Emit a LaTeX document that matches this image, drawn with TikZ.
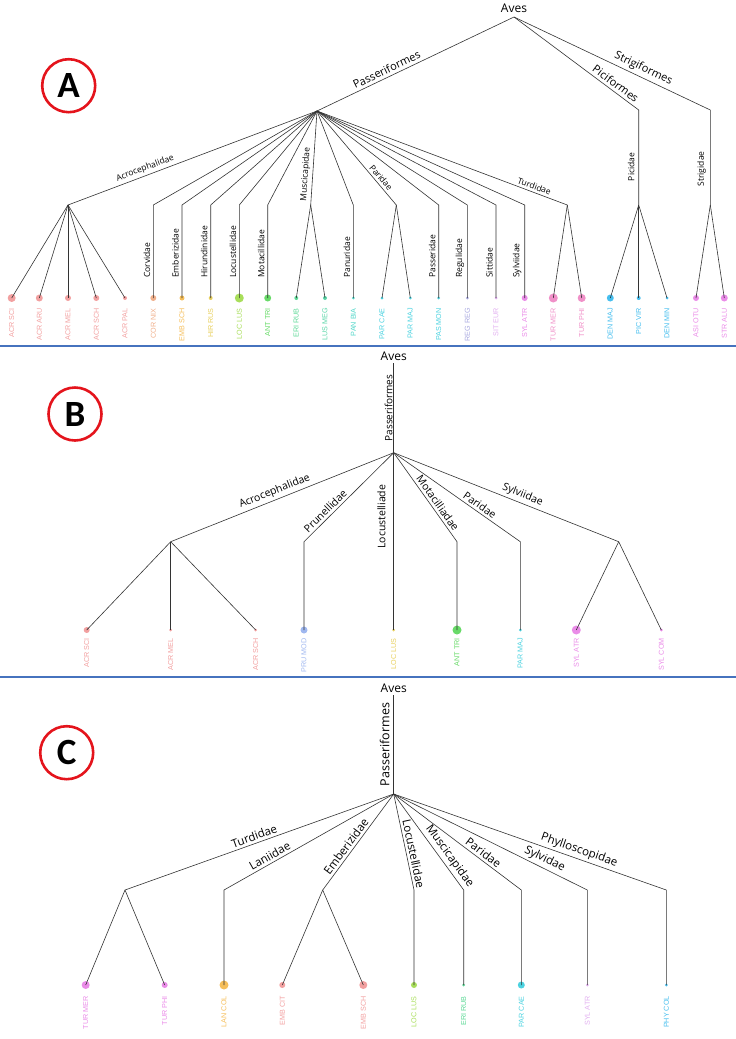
\documentclass[tikz,border=0pt]{standalone}
\usepackage{fontspec}
\setmainfont{Open Sans}
\newfontfamily\leaffont{Liberation Sans}
\newfontfamily\tagfont{Carlito}

% leaf colours
\definecolor{acr}{RGB}{242,160,160}
\definecolor{cor}{RGB}{240,176,140}
\definecolor{emb}{RGB}{245,190,90}
\definecolor{hir}{RGB}{232,208,96}
\definecolor{loc}{RGB}{168,222,90}
\definecolor{ant}{RGB}{104,218,104}
\definecolor{eri}{RGB}{92,216,150}
\definecolor{lus}{RGB}{90,214,168}
\definecolor{pan}{RGB}{80,214,200}
\definecolor{par}{RGB}{76,210,224}
\definecolor{reg}{RGB}{168,168,224}
\definecolor{sit}{RGB}{226,176,240}
\definecolor{syl}{RGB}{234,140,232}
\definecolor{tur}{RGB}{240,144,200}
\definecolor{den}{RGB}{70,190,238}
\definecolor{pru}{RGB}{160,184,240}
\definecolor{tagred}{RGB}{228,20,28}
\definecolor{divblue}{RGB}{70,115,190}

\tikzset{
  branch/.style={draw=black!80, line width=0.6pt},
  rootlab/.style={font=\fontsize{12}{12}\selectfont, inner sep=0pt, anchor=base},
  order/.style={font=\fontsize{11}{11}\selectfont, sloped, above=2pt, inner sep=1pt},
  clade/.style={font=\fontsize{#1}{#1}\selectfont, sloped, above=1.5pt, inner sep=1pt},
  clade/.default=8.5,
  vclade/.style={font=\fontsize{#1}{#1}\selectfont, rotate=90, inner sep=1pt},
  vclade/.default=8.5,
  leaflab/.style={font=\leaffont\fontsize{7.2}{7.2}\selectfont, rotate=90, anchor=east, inner sep=0pt},
  paneltag/.style={circle, draw=tagred, line width=2.6pt, minimum size=53pt, inner sep=0pt,
    font=\tagfont\bfseries\fontsize{37}{37}\selectfont},
  divider/.style={draw=divblue, line width=1.6pt}
}

\begin{document}
\begin{tikzpicture}[x=1pt, y=-1pt]
    \useasboundingbox (0,0) rectangle (736,1039);

    % panel dividers
    \draw[divider] (0,346) -- (736,346);
    \draw[divider] (0,677) -- (736,677);

    % panel tags
    \node[paneltag] (tagA) at (68.7,85.7) {A};
    \node[paneltag] (tagB) at (75,414) {B};
    \node[paneltag] (tagC) at (66.7,752.7) {C};

    % ---------------- panel A ----------------
    \foreach \nm/\x/\r/\c/\t in {
        acrsci/11.7/4/acr/ACR SCI, acraru/39.3/3.5/acr/ACR ARU, acrmel/68/3/acr/ACR MEL,
        acrsch/96.3/3/acr/ACR SCH, acrpal/125/2/acr/ACR PAL, cornix/153.3/3/cor/COR NIX,
        embsch/182/2.5/emb/EMB SCH, hirrus/210.7/2/hir/HIR RUS, loclus/239.3/4.5/loc/LOC LUS,
        anttri/267.7/3.5/ant/ANT TRI, erirub/296.3/2/eri/ERI RUB, lusmeg/325/2/lus/LUS MEG,
        panbia/353.3/1.5/pan/PAN BIA, parcae/382/1.5/par/PAR CAE, parmaj/410.3/1.5/par/PAR MAJ,
        pasmon/438.7/1.5/par/PAS MON, regreg/467.3/1.5/reg/REG REG, siteur/496/1.5/sit/SIT EUR,
        sylatr/524.7/3/syl/SYL ATR, turmer/553.3/4.5/tur/TUR MER, turphi/581.7/4/tur/TUR PHI,
        denmaj/610.3/3.5/den/DEN MAJ, picvir/638.7/2/den/PIC VIR, denmin/667/1.5/den/DEN MIN,
        asiotu/696/3/syl/ASI OTU, stralu/724.3/3.5/syl/STR ALU}{
        \coordinate (A-\nm) at (\x,298);
        \fill[\c] (A-\nm) circle[radius=\r];
        \node[leaflab, text=\c] (A-\nm-lab) at ([yshift=-10pt]A-\nm) {\t};
    }

    \coordinate (A-root) at (514,17);
    \node[rootlab] (A-aves) at ([yshift=4.5pt]A-root) {Aves};
    \coordinate (A-passer) at (317,111);
    \coordinate (A-pici) at (638.7,110);
    \coordinate (A-strigi) at (710.3,110);
    \coordinate (A-picid) at (638.7,205);
    \coordinate (A-strig) at (710.3,205);
    \foreach \f/\x in {acro/68, corv/153.3, embe/182, hiru/210.7, locu/239.3, mota/267.7,
        musc/310.7, panu/353.3, pari/396.3, pass/438.7, regu/467.3, sitt/496, sylv/524.7, turd/567.3}
        \coordinate (A-\f) at (\x,205);

    % orders
    \draw[branch] (A-root) -- node[order, pos=.63] {Passeriformes} (A-passer);
    \draw[branch] (A-root) -- node[order, pos=.78] {Piciformes} (A-pici)
        -- node[xshift=-3pt, vclade, anchor=south, pos=.6] {Picidae} (A-picid);
    \draw[branch] (A-root) -- node[order, pos=.64] {Strigiformes} (A-strigi)
        -- node[xshift=-3pt, vclade, anchor=south, pos=.62] {Strigidae} (A-strig);
    \foreach \l in {denmaj, picvir, denmin} \draw[branch] (A-picid) -- (A-\l);
    \foreach \l in {asiotu, stralu} \draw[branch] (A-strig) -- (A-\l);

    % families with several leaves
    \draw[branch] (A-passer) -- node[clade, pos=.68] {Acrocephalidae} (A-acro);
    \foreach \l in {acrsci, acraru, acrmel, acrsch, acrpal} \draw[branch] (A-acro) -- (A-\l);
    \draw[branch] (A-passer) -- node[clade, pos=.68] {Muscicapidae} (A-musc);
    \foreach \l in {erirub, lusmeg} \draw[branch] (A-musc) -- (A-\l);
    \draw[branch] (A-passer) -- node[clade, pos=.75] {Paridae} (A-pari);
    \foreach \l in {parcae, parmaj} \draw[branch] (A-pari) -- (A-\l);
    \draw[branch] (A-passer) -- node[clade, pos=.86] {Turdidae} (A-turd);
    \foreach \l in {turmer, turphi} \draw[branch] (A-turd) -- (A-\l);

    % families with one leaf
    \foreach \f/\l/\t in {corv/cornix/Corvidae, embe/embsch/Emberizidae, hiru/hirrus/Hirundinidae,
        locu/loclus/Locustellidae, mota/anttri/Motacillidae, panu/panbia/Panuridae,
        pass/pasmon/Passeridae, regu/regreg/Regulidae, sitt/siteur/Sittidae, sylv/sylatr/Sylviidae}{
        \draw[branch] (A-passer) -- (A-\f) -- (A-\l);
        \node[vclade, anchor=south west] (A-\f-lab) at ([xshift=-2pt, yshift=19pt]A-\l) {\t};
    }

    % ---------------- panel B ----------------
    \foreach \nm/\x/\r/\c/\t in {
        acrsci/86.7/3/acr/ACR SCI, acrmel/170.7/1.5/acr/ACR MEL, acrsch/255.7/1.5/acr/ACR SCH,
        prumod/304/3.5/pru/PRU MOD, loclus/393.7/1.5/hir/LOC LUS, anttri/457/4.5/ant/ANT TRI,
        parmaj/520.3/1.5/par/PAR MAJ, sylatr/576.3/4.5/syl/SYL ATR, sylcom/661.3/1.5/syl/SYL COM}{
        \coordinate (B-\nm) at (\x,630);
        \fill[\c] (B-\nm) circle[radius=\r];
        \node[leaflab, text=\c] (B-\nm-lab) at ([yshift=-8pt]B-\nm) {\t};
    }

    \coordinate (B-root) at (393.7,363.3);
    \node[rootlab] (B-aves) at ([yshift=2.5pt]B-root) {Aves};
    \coordinate (B-passer) at (393.7,452.7);
    \foreach \f/\x in {acro/170.7, prun/304, locu/393.7, mota/457, pari/520.3, sylv/618.7}
        \coordinate (B-\f) at (\x,541.7);

    \draw[branch] (B-root) -- node[vclade=10, anchor=south, midway] {Passeriformes} (B-passer);
    \draw[branch] (B-passer) -- node[clade=10.5, pos=.52] {Acrocephalidae} (B-acro);
    \foreach \l in {acrsci, acrmel, acrsch} \draw[branch] (B-acro) -- (B-\l);
    \draw[branch] (B-passer) -- node[clade=10.5, pos=.71] {Prunellidae} (B-prun) -- (B-prumod);
    \draw[branch] (B-passer) -- node[xshift=-7pt, vclade=10.5, anchor=south, pos=.72] {Locustelliade} (B-locu) -- (B-loclus);
    \draw[branch] (B-passer) -- node[clade=10.5, pos=.61] {Motacilliadae} (B-mota) -- (B-anttri);
    \draw[branch] (B-passer) -- node[clade=10.5, pos=.65] {Paridae} (B-pari) -- (B-parmaj);
    \draw[branch] (B-passer) -- node[clade=10.5, pos=.56] {Sylviidae} (B-sylv);
    \foreach \l in {sylatr, sylcom} \draw[branch] (B-sylv) -- (B-\l);

    % ---------------- panel C ----------------
    \foreach \nm/\x/\r/\c/\t in {
        turmer/85.7/4/syl/TUR MER, turphi/164.7/3/syl/TUR PHI, lancol/224/4.5/emb/LAN COL,
        embcit/282.3/3/acr/EMB CIT, embsch/363.3/4/acr/EMB SCH, loclus/414/3/loc/LOC LUS,
        erirub/463.7/1.5/eri/ERI RUB, parcae/521.3/3.5/par/PAR CAE, sylatr/587.3/1.5/sit/SYL ATR,
        phycol/666.3/1.5/den/PHY COL}{
        \coordinate (C-\nm) at (\x,985);
        \fill[\c] (C-\nm) circle[radius=\r];
        \node[leaflab, text=\c] (C-\nm-lab) at ([yshift=-11pt]C-\nm) {\t};
    }

    \coordinate (C-root) at (393.7,695);
    \node[rootlab] (C-aves) at ([yshift=2.7pt]C-root) {Aves};
    \coordinate (C-passer) at (393.7,794);
    \foreach \f/\x in {turd/125, lani/224, embe/322.7, locu/414, musc/463.7, pari/521.3,
        sylv/587.3, phyl/666.3}
        \coordinate (C-\f) at (\x,890);

    \draw[branch] (C-root) -- node[xshift=-3pt, vclade=12.5, anchor=south, midway] {Passeriformes} (C-passer);
    \draw[branch] (C-passer) -- node[clade=11.5, pos=.51] {Turdidae} (C-turd);
    \foreach \l in {turmer, turphi} \draw[branch] (C-turd) -- (C-\l);
    \draw[branch] (C-passer) -- node[clade=11.5, pos=.71] {Laniidae} (C-lani) -- (C-lancol);
    \draw[branch] (C-passer) -- node[clade=11.5, pos=.59] {Emberizidae} (C-embe);
    \foreach \l in {embcit, embsch} \draw[branch] (C-embe) -- (C-\l);
    \draw[branch] (C-passer) -- node[clade=11.5, pos=.64] {Locustellidae} (C-locu) -- (C-loclus);
    \draw[branch] (C-passer) -- node[clade=11.5, pos=.70] {Muscicapidae} (C-musc) -- (C-erirub);
    \draw[branch] (C-passer) -- node[clade=11.5, pos=.67] {Paridae} (C-pari) -- (C-parcae);
    \draw[branch] (C-passer) -- node[clade=11.5, pos=.76] {Sylvidae} (C-sylv) -- (C-sylatr);
    \draw[branch] (C-passer) -- node[clade=11.5, pos=.67] {Phylloscopidae} (C-phyl) -- (C-phycol);

\end{tikzpicture}
\end{document}
